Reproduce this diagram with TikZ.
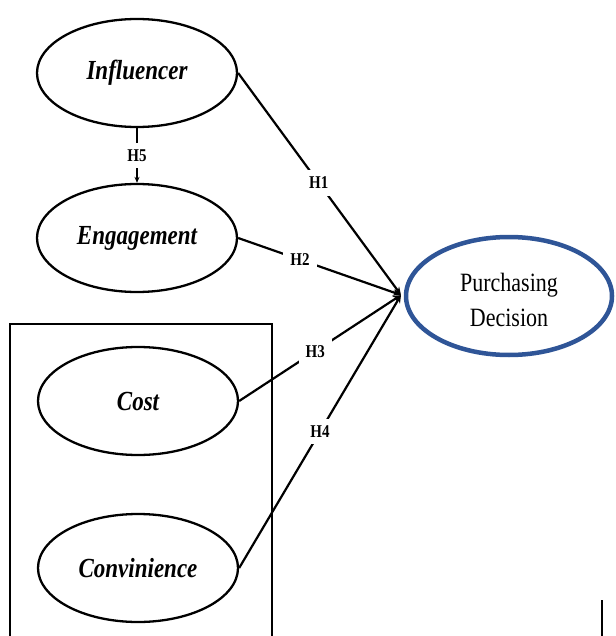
\documentclass[tikz,border=0pt]{standalone}
\usepackage{fontspec}
\usepackage{graphicx}
\setmainfont{Liberation Serif}
\usetikzlibrary{arrows.meta,shapes.geometric}
\definecolor{pdblue}{RGB}{47,85,151}
\newcommand{\vst}[1]{\scalebox{1}[1.2]{#1}}
\tikzset{
  construct/.style={draw, ellipse, line width=2.3pt, minimum width=200pt, minimum height=108pt, inner sep=0pt,
    font=\fontsize{23}{27}\selectfont\bfseries\itshape},
  outcome/.style={draw=pdblue, ellipse, line width=4.5pt, minimum width=206pt, minimum height=118pt, inner sep=0pt},
  outcometext/.style={inner sep=0pt, font=\fontsize{22}{29}\selectfont},
  link/.style={line width=2.2pt, -{Stealth[length=8pt,width=7pt]}},
  hyp/.style={fill=white, inner sep=7pt, font=\fontsize{15}{17}\selectfont\bfseries},
}
\begin{document}
\begin{tikzpicture}[x=1pt,y=-1pt]
\useasboundingbox (0,0) rectangle (615,636);
\draw[line width=2.2pt] (10,640) -- (10,324) -- (272,324) -- (272,640);
\draw[line width=1.8pt] (602,600) -- (602,640);
\node[construct] (inf) at (137,73) {\vst{Influencer}};
\node[construct] (eng) at (137,238) {\vst{Engagement}};
\node[construct] (cost) at (138,401) {\vst{Cost}};
\node[construct] (conv) at (138,568) {\vst{Convinience}};
\node[outcome] (pd) at (509,296) {};
\node[outcometext] (pdtext) at ([yshift=-6pt]pd.center) {\vst{\begin{tabular}{@{}c@{}}Purchasing\\Decision\end{tabular}}};
\coordinate (hub) at (401,295);
\draw[link] (inf.east) -- node[hyp, pos=0.495] (h1) {\vst{H1}} (hub);
\draw[link] (eng.east) -- node[hyp, pos=0.38] (h2) {\vst{H2}} (hub);
\draw[link] (cost.east) -- node[hyp, pos=0.47] (h3) {\vst{H3}} (hub);
\draw[link] (conv.east) -- node[hyp, pos=0.5] (h4) {\vst{H4}} (hub);
\draw[line width=1.8pt, -{Stealth[length=6pt,width=5pt]}] (inf.south) -- node[hyp, inner sep=7pt] (h5) {\vst{H5}} (eng.north);
\end{tikzpicture}
\end{document}
